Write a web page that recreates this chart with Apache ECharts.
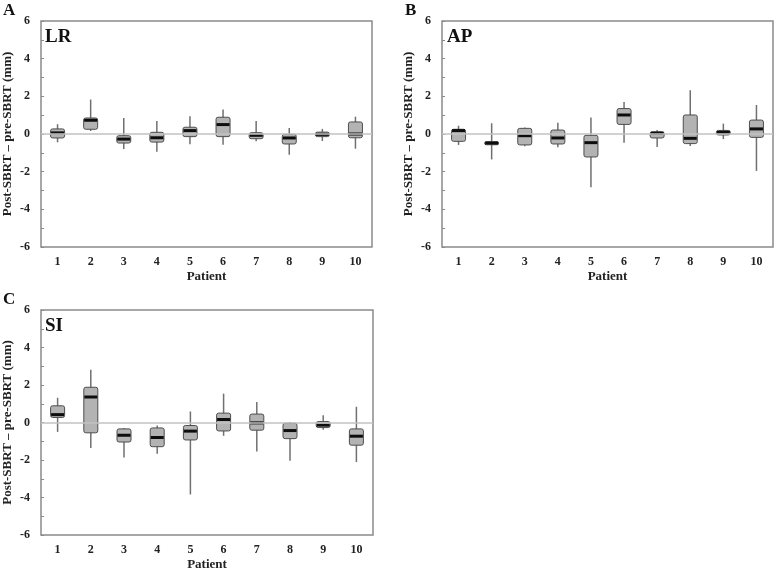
<!DOCTYPE html>
<html>
<head>
<meta charset="utf-8">
<script src="https://cdn.jsdelivr.net/npm/echarts@6/dist/echarts.min.js"></script>
<style>
  html, body { margin: 0; padding: 0; background: #fff; }
  #chart { width: 778px; height: 575px; }
</style>
</head>
<body>
<div id="chart"></div>
<script>
// patients on the x axis
const patients = ['1', '2', '3', '4', '5', '6', '7', '8', '9', '10'];
const yTicks = [-6, -4, -2, 0, 2, 4, 6];

// each row: [min, Q1, median, Q3, max] in mm
const lrBoxes = [
  [-0.44, -0.21, 0.06, 0.27, 0.52],
  [0.16, 0.25, 0.73, 0.85, 1.83],
  [-0.80, -0.48, -0.27, -0.09, 0.85],
  [-0.94, -0.43, -0.20, 0.09, 0.69],
  [-0.55, -0.14, 0.18, 0.36, 0.94],
  [-0.57, -0.14, 0.50, 0.89, 1.30],
  [-0.39, -0.25, -0.07, 0.07, 0.69],
  [-1.10, -0.53, -0.21, -0.02, 0.32],
  [-0.37, -0.14, -0.02, 0.10, 0.27],
  [-0.78, -0.20, 0.00, 0.64, 0.92]
];
const apBoxes = [
  [-0.58, -0.39, 0.18, 0.25, 0.44],
  [-1.35, -0.57, -0.48, -0.41, 0.57],
  [-0.65, -0.58, -0.09, 0.30, 0.35],
  [-0.71, -0.53, -0.21, 0.21, 0.60],
  [-2.83, -1.22, -0.46, -0.07, 0.88],
  [-0.46, 0.51, 1.01, 1.35, 1.70],
  [-0.69, -0.21, 0.04, 0.12, 0.21],
  [-0.64, -0.51, -0.23, 1.01, 2.32],
  [-0.27, -0.05, 0.09, 0.19, 0.55],
  [-1.96, -0.18, 0.27, 0.74, 1.54]
];
const siBoxes = [
  [-0.50, 0.27, 0.42, 0.89, 1.32],
  [-1.36, -0.55, 1.36, 1.88, 2.82],
  [-1.86, -1.04, -0.68, -0.34, -0.29],
  [-1.66, -1.29, -0.80, -0.29, -0.16],
  [-3.84, -0.93, -0.46, -0.16, 0.59],
  [-0.71, -0.45, 0.16, 0.50, 1.54],
  [-1.55, -0.41, -0.02, 0.45, 1.09],
  [-2.04, -0.86, -0.43, -0.04, 0.02],
  [-0.38, -0.27, -0.14, 0.05, 0.39],
  [-2.11, -1.21, -0.73, -0.34, 0.84]
];

const panels = [
  { letter: 'A', tag: 'LR', boxes: lrBoxes, grid: { left: 40, top: 21, width: 332, height: 226 } },
  { letter: 'B', tag: 'AP', boxes: apBoxes, grid: { left: 442, top: 21, width: 331, height: 226 } },
  { letter: 'C', tag: 'SI', boxes: siBoxes, grid: { left: 40, top: 310, width: 333, height: 225 } }
];

const serif = 'Liberation Serif, Times New Roman, serif';
const BOX_W = 14;

function renderBox(params, api) {
  const x = api.value(0);
  const lo = api.coord([x, api.value(1)]);
  const q1 = api.coord([x, api.value(2)]);
  const med = api.coord([x, api.value(3)]);
  const q3 = api.coord([x, api.value(4)]);
  const hi = api.coord([x, api.value(5)]);
  return {
    type: 'group',
    children: [
      { type: 'line', shape: { x1: lo[0], y1: lo[1], x2: hi[0], y2: hi[1] },
        style: { stroke: '#707070', lineWidth: 1.5 } },
      { type: 'rect', shape: { x: q3[0] - BOX_W / 2, y: q3[1], width: BOX_W, height: Math.max(q1[1] - q3[1], 1), r: 2 },
        style: { fill: '#b3b3b3', stroke: '#4d4d4d', lineWidth: 1 } },
      { type: 'line', shape: { x1: med[0] - BOX_W / 2 + 0.5, y1: med[1], x2: med[0] + BOX_W / 2 - 0.5, y2: med[1] },
        style: { stroke: '#0d0d0d', lineWidth: 3 } }
    ]
  };
}

const option = {
  animation: false,
  backgroundColor: '#fff',
  title: [],
  grid: [],
  xAxis: [],
  yAxis: [],
  series: []
};

panels.forEach((p, i) => {
  option.grid.push(Object.assign({ show: true, borderColor: '#8a8a8a', borderWidth: 1.5, backgroundColor: '#fff' }, p.grid));
  option.title.push({
    text: p.letter, padding: 0,
    left: p.grid.left - 37, top: p.grid.top - 19,
    textStyle: { fontFamily: serif, fontWeight: 'bold', fontSize: 17, color: '#111' }
  });
  option.title.push({
    text: p.tag, padding: 0,
    left: p.grid.left + 5, top: p.grid.top + 7,
    textStyle: { fontFamily: serif, fontWeight: 'bold', fontSize: 19, color: '#111' }
  });
  option.xAxis.push({
    type: 'category', gridIndex: i, data: patients,
    name: 'Patient', nameLocation: 'middle', nameGap: 23,
    nameTextStyle: { fontFamily: serif, fontWeight: 'bold', fontSize: 13, color: '#222' },
    axisLine: { show: false }, axisTick: { show: false },
    axisLabel: { margin: 9, fontFamily: serif, fontWeight: 'bold', fontSize: 12, color: '#222' }
  });
  option.yAxis.push({
    type: 'value', gridIndex: i, min: -6, max: 6, interval: 1,
    name: 'Post-SBRT – pre-SBRT (mm)', nameLocation: 'middle', nameGap: 27,
    nameTextStyle: { fontFamily: serif, fontWeight: 'bold', fontSize: 13, color: '#222' },
    axisLine: { show: false },
    axisTick: { show: true, inside: true, length: 3, lineStyle: { color: '#8a8a8a' } },
    splitLine: { show: false },
    axisLabel: {
      margin: 11, fontFamily: serif, fontWeight: 'bold', fontSize: 12, color: '#222',
      formatter: v => (yTicks.indexOf(v) >= 0 ? String(v) : '')
    }
  });
  option.series.push({
    type: 'line', xAxisIndex: i, yAxisIndex: i, data: [], z: 1, silent: true,
    markLine: {
      silent: true, symbol: 'none', label: { show: false },
      lineStyle: { color: '#c2c2c2', width: 1.5, type: 'solid' },
      data: [{ yAxis: 0 }]
    }
  });
  option.series.push({
    type: 'custom', xAxisIndex: i, yAxisIndex: i, z: 3,
    renderItem: renderBox,
    encode: { x: 0, y: [1, 2, 3, 4, 5] },
    data: p.boxes.map((b, k) => [k].concat(b))
  });
});

const chart = echarts.init(document.getElementById('chart'));
chart.setOption(option);
window.addEventListener('resize', () => chart.resize());
</script>
</body>
</html>
